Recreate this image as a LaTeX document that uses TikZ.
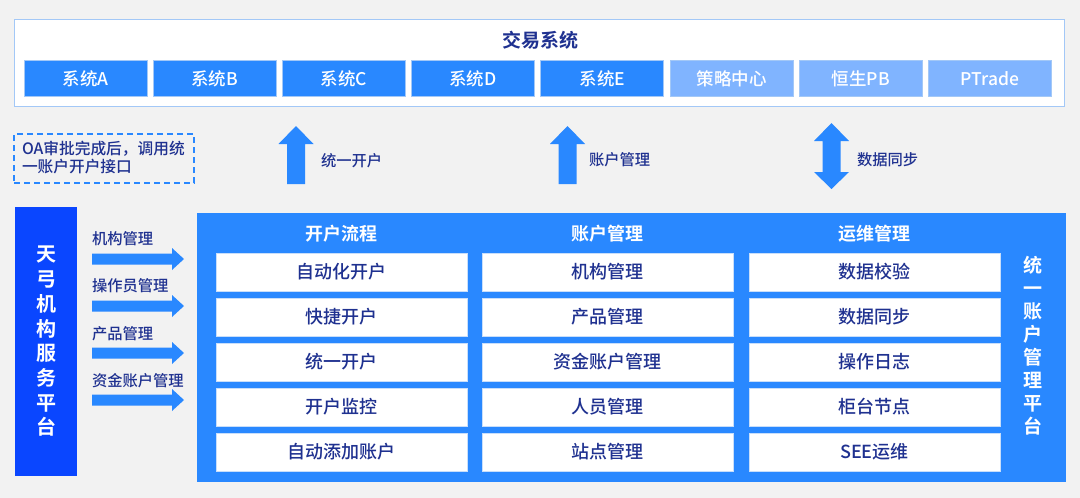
\documentclass[tikz,border=0pt]{standalone}
\usepackage{fontspec}
\setmainfont{Noto Sans CJK SC}[UprightFont=* Medium, BoldFont=* Bold]
\definecolor{bgc}{HTML}{F2F2F2}
\definecolor{mainblue}{HTML}{2988FF}
\definecolor{deepblue}{HTML}{0A46FF}
\definecolor{lightblue}{HTML}{80B4FF}
\definecolor{navy}{HTML}{1F3190}
\definecolor{edgeblue}{HTML}{A3C8F7}
\begin{document}
\begin{tikzpicture}[x=1pt,y=-1pt,
  every node/.style={inner sep=0pt, outer sep=0pt},
  sysbox/.style={fill=mainblue, draw=edgeblue, line width=0.8pt, minimum width=123pt, minimum height=36pt, text=white, font=\fontsize{17.5}{20}\selectfont},
  syslight/.style={sysbox, fill=lightblue},
  cell/.style={fill=white, draw=edgeblue!60, line width=0.6pt, minimum width=251pt, minimum height=38pt, text=navy, font=\fontsize{18}{20}\selectfont},
  hdr/.style={text=white, font=\bfseries\fontsize{18}{20}\selectfont},
  lbl/.style={text=navy, anchor=west, font=\fontsize{15.3}{18}\selectfont},
  rarrow/.pic={\fill[mainblue] (0,-5.5) -- (80,-5.5) -- (80,-11) -- (92,0) -- (80,11) -- (80,5.5) -- (0,5.5) -- cycle;},
  uarrow/.pic={\fill[mainblue] (0,0) -- (17.5,18) -- (9,18) -- (9,58) -- (-9,58) -- (-9,18) -- (-17.5,18) -- cycle;},
  darrow/.pic={\fill[mainblue] (0,0) -- (17.5,18) -- (9,18) -- (9,49) -- (17.5,49) -- (0,66) -- (-17.5,49) -- (-9,49) -- (-9,18) -- (-17.5,18) -- cycle;}
]
\useasboundingbox (0,0) rectangle (1080,498);
\fill[bgc] (0,0) rectangle (1080,498);

% top trading system box
\node[fill=white, draw=edgeblue, line width=1pt, minimum width=1050pt, minimum height=87pt] (top) at (539,62.5) {};
\node[text=navy, font=\bfseries\fontsize{19}{22}\selectfont] (title) at (540,40) {交易系统};
\node[sysbox] (s1) at (85.5,78.7) {系统A};
\node[sysbox] (s2) at (214.7,78.7) {系统B};
\node[sysbox] (s3) at (343.9,78.7) {系统C};
\node[sysbox] (s4) at (473.1,78.7) {系统D};
\node[sysbox] (s5) at (602.3,78.7) {系统E};
\node[syslight] (s6) at (731.5,78.7) {策略中心};
\node[syslight] (s7) at (860.7,78.7) {恒生PB};
\node[syslight] (s8) at (989.9,78.7) {PTrade};

% OA note
\node[draw=mainblue, dashed, dash pattern=on 6pt off 4pt, line width=1.6pt, minimum width=180pt, minimum height=49pt] (oa) at (104,158.5) {};
\node[text=navy, anchor=west, align=left, font=\fontsize{15.7}{18}\selectfont] (oatext) at (22,158) {OA审批完成后，调用统\\一账户开户接口};

% block arrows between platform and trading system
\coordinate (ua1) at (296,126);
\coordinate (ua2) at (567.5,126);
\coordinate (da) at (831.5,123);
\pic at (ua1) {uarrow};
\pic at (ua2) {uarrow};
\pic at (da) {darrow};
\node[lbl] (l1) at (321,161) {统一开户};
\node[lbl] (l2) at (589,160) {账户管理};
\node[lbl] (l3) at (857,160) {数据同步};

% left service platform
\node[fill=deepblue, minimum width=62pt, minimum height=269pt] (tg) at (46,341.5) {};
\node[text=white, align=center, font=\bfseries\fontsize{20}{24.7}\selectfont] (tgtext) at (46,341.5) {天\\弓\\机\\构\\服\\务\\平\\台};

% left arrows and labels
\node[lbl] (a1) at (92,239) {机构管理};
\node[lbl] (a2) at (92,286) {操作员管理};
\node[lbl] (a3) at (92,334) {产品管理};
\node[lbl] (a4) at (92,381) {资金账户管理};
\coordinate (r1) at (92,259);
\coordinate (r2) at (92,306);
\coordinate (r3) at (92,353);
\coordinate (r4) at (92,400);
\pic at (r1) {rarrow};
\pic at (r2) {rarrow};
\pic at (r3) {rarrow};
\pic at (r4) {rarrow};

% unified account management platform
\node[fill=mainblue, minimum width=869pt, minimum height=269pt] (plat) at (631.5,347.5) {};
\node[hdr] (h1) at (341.5,234) {开户流程};
\node[hdr] (h2) at (607.5,234) {账户管理};
\node[hdr] (h3) at (874.5,234) {运维管理};

\node[cell] (c11) at (341.5,272) {自动化开户};
\node[cell] (c12) at (341.5,317) {快捷开户};
\node[cell] (c13) at (341.5,362) {统一开户};
\node[cell] (c14) at (341.5,407) {开户监控};
\node[cell] (c15) at (341.5,452) {自动添加账户};

\node[cell] (c21) at (607.5,272) {机构管理};
\node[cell] (c22) at (607.5,317) {产品管理};
\node[cell] (c23) at (607.5,362) {资金账户管理};
\node[cell] (c24) at (607.5,407) {人员管理};
\node[cell] (c25) at (607.5,452) {站点管理};

\node[cell] (c31) at (874.5,272) {数据校验};
\node[cell] (c32) at (874.5,317) {数据同步};
\node[cell] (c33) at (874.5,362) {操作日志};
\node[cell] (c34) at (874.5,407) {柜台节点};
\node[cell] (c35) at (874.5,452) {SEE运维};

\node[text=white, align=center, font=\bfseries\fontsize{19}{23}\selectfont] (ptext) at (1033,345.5) {统\\一\\账\\户\\管\\理\\平\\台};
\end{tikzpicture}
\end{document}
